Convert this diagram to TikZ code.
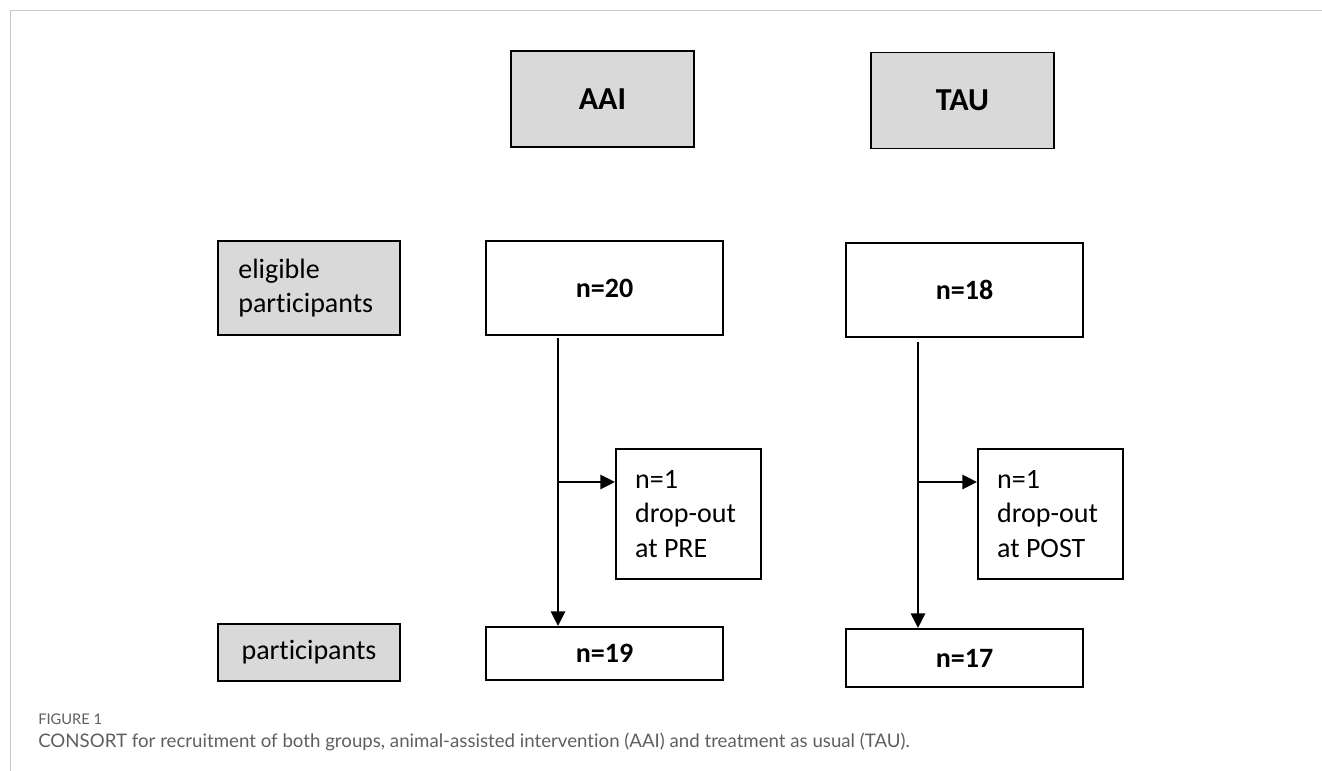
\documentclass[tikz,border=0pt]{standalone}
\usepackage{fontspec}
\setmainfont{Carlito}[Ligatures=NoCommon]
\newfontfamily\capfont{Lato}[Ligatures=NoCommon]
\usetikzlibrary{arrows.meta}
\definecolor{boxGray}{RGB}{217,217,217}
\definecolor{frameGray}{RGB}{200,200,200}
\definecolor{capGray}{RGB}{95,95,95}

\begin{document}
\begin{tikzpicture}[x=0.75pt, y=-0.75pt,
    box/.style={draw=black, line width=1.4pt, inner sep=0pt, font=\fontsize{21}{26}\selectfont},
    headbox/.style={box, fill=boxGray, minimum width=137pt, minimum height=72pt, font=\fontsize{24}{28}\selectfont\bfseries},
    labelbox/.style={box, fill=boxGray, minimum width=136.5pt, align=flush left, text width=106pt},
    countbox/.style={box, minimum width=177.75pt, font=\fontsize{21}{26}\selectfont\bfseries},
    dropbox/.style={box, minimum width=108.75pt, minimum height=97.5pt, align=flush left, text width=80pt},
    flow/.style={line width=2.2pt, -{Triangle[length=11pt, width=10.5pt]}}]
  \useasboundingbox (0,0) rectangle (1322,771);
  \draw[frameGray, line width=0.75pt] (10,771) -- (10,10) -- (1322,10);

  \node[headbox] (aai) at (602.5,99) {AAI};
  \node[headbox] (tau) at (962.5,100.5) {TAU};

  \node[labelbox, minimum height=71pt] (eligible) at (309,288) {eligible\\participants};
  \node[countbox, minimum height=70.5pt] (n20) at (604.5,288) {n=20};
  \node[countbox, minimum height=70.5pt] (n18) at (964.5,290) {n=18};

  \node[dropbox] (dropPre) at (688.5,514) {n=1\\drop-out\\at PRE};
  \node[dropbox] (dropPost) at (1050.5,514) {n=1\\drop-out\\at POST};

  \node[labelbox, minimum height=42.75pt, align=center] (part) at (309,652.5) {participants};
  \node[countbox, minimum height=39.75pt] (n19) at (604.5,653.5) {n=19};
  \node[countbox, minimum height=43.5pt] (n17) at (964.5,658) {n=17};

  \coordinate (aaiTop) at (558,338);
  \coordinate (aaiFork) at (558,482);
  \coordinate (tauTop) at (918,342);
  \coordinate (tauFork) at (918,482);
  \draw[flow] (aaiTop) -- (aaiTop |- n19.north);
  \draw[flow] (aaiFork) -- (aaiFork -| dropPre.west);
  \draw[flow] (tauTop) -- (tauTop |- n17.north);
  \draw[flow] (tauFork) -- (tauFork -| dropPost.west);

  \node[anchor=west, inner sep=0pt, text=capGray, font=\capfont\fontsize{11}{13}\selectfont] (figNum) at (38,719) {FIGURE 1};
  \node[anchor=west, inner sep=0pt, text=capGray, font=\capfont\fontsize{14}{17}\selectfont] (figCap) at (38,742) {CONSORT for recruitment of both groups, animal-assisted intervention (AAI) and treatment as usual (TAU).};
\end{tikzpicture}
\end{document}
